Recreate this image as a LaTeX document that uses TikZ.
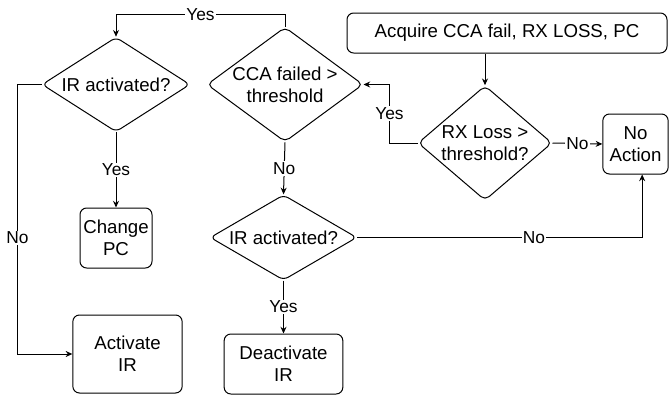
\documentclass[tikz,border=0pt]{standalone}
\usepackage{fontspec}
\setmainfont{Liberation Sans}
\usetikzlibrary{shapes.geometric,arrows.meta}

\begin{document}
\begin{tikzpicture}[x=0.75pt,y=-0.75pt,line width=0.75pt,
			>={Stealth[length=5pt,width=4.5pt]},
			box node/.style={rectangle,draw,rounded corners=5pt,inner sep=0pt,align=center,font=\fontsize{14}{16.5}\selectfont},
			test node/.style={diamond,draw,rounded corners=4pt,inner sep=0pt,align=center,font=\fontsize{14}{16.5}\selectfont},
			label node/.style={fill=white,inner sep=1pt,font=\fontsize{13}{15}\selectfont}
			]
			
			\useasboundingbox (0,0) rectangle (669,396);
			
			\node[box node,minimum width=240pt,minimum height=30pt] at (507,33) (acq) {Acquire CCA fail, RX LOSS, PC};
			\node[test node,shape aspect=1.2,minimum width=100.5pt,minimum height=86pt] at (485,143) (rx) {RX Loss >\\threshold?};
			\node[box node,minimum width=49pt,minimum height=45pt] at (635.5,144) (na) {No\\Action};
			
			\node[test node,shape aspect=1.36,minimum width=117pt,minimum height=86pt] at (285,84.5) (cca) {CCA failed >\\threshold};
			\node[test node,shape aspect=1.8,minimum width=110pt,minimum height=64pt] at (283.5,237.5) (irb) {IR activated?};
			\node[box node,minimum width=89pt,minimum height=45pt] at (283.5,364) (deact) {Deactivate\\IR};
			
			\node[test node,shape aspect=1.6,minimum width=111pt,minimum height=71pt] at (116,84.5) (ira) {IR activated?};
			\node[box node,minimum width=54pt,minimum height=45pt] at (116,238) (chg) {Change\\PC};
			\node[box node,minimum width=82pt,minimum height=58.5pt] at (127.5,354) (act) {Activate\\IR};
			
			\draw[->] (rx.north |- acq.south) -- (rx.north);
			\draw[->] (rx.west) -- ++(-28,0) |- node[label node,pos=0.25] {Yes} (cca.east);
			\draw[->] (rx.east) -- node[label node] {No} (na.west);
			
			\draw[->] (cca.north) -- ++(0,-12) -| node[label node,pos=0.25] {Yes} (ira.north);
			\draw[->] (cca.south) -- node[label node] {No} (irb.north);
			\draw[->] (irb.east) -| node[label node,pos=0.31] {No} ([xshift=5pt]na.south);
			\draw[->] (irb.south) -- node[label node] {Yes} (deact.north);
			
			\draw[->] (ira.south) -- node[label node] {Yes} (chg.north);
			\draw[->] (ira.west) -- ++(-24,0) |- node[label node,pos=0.285] {No} (act.west);
			\end{tikzpicture}
\end{document}
